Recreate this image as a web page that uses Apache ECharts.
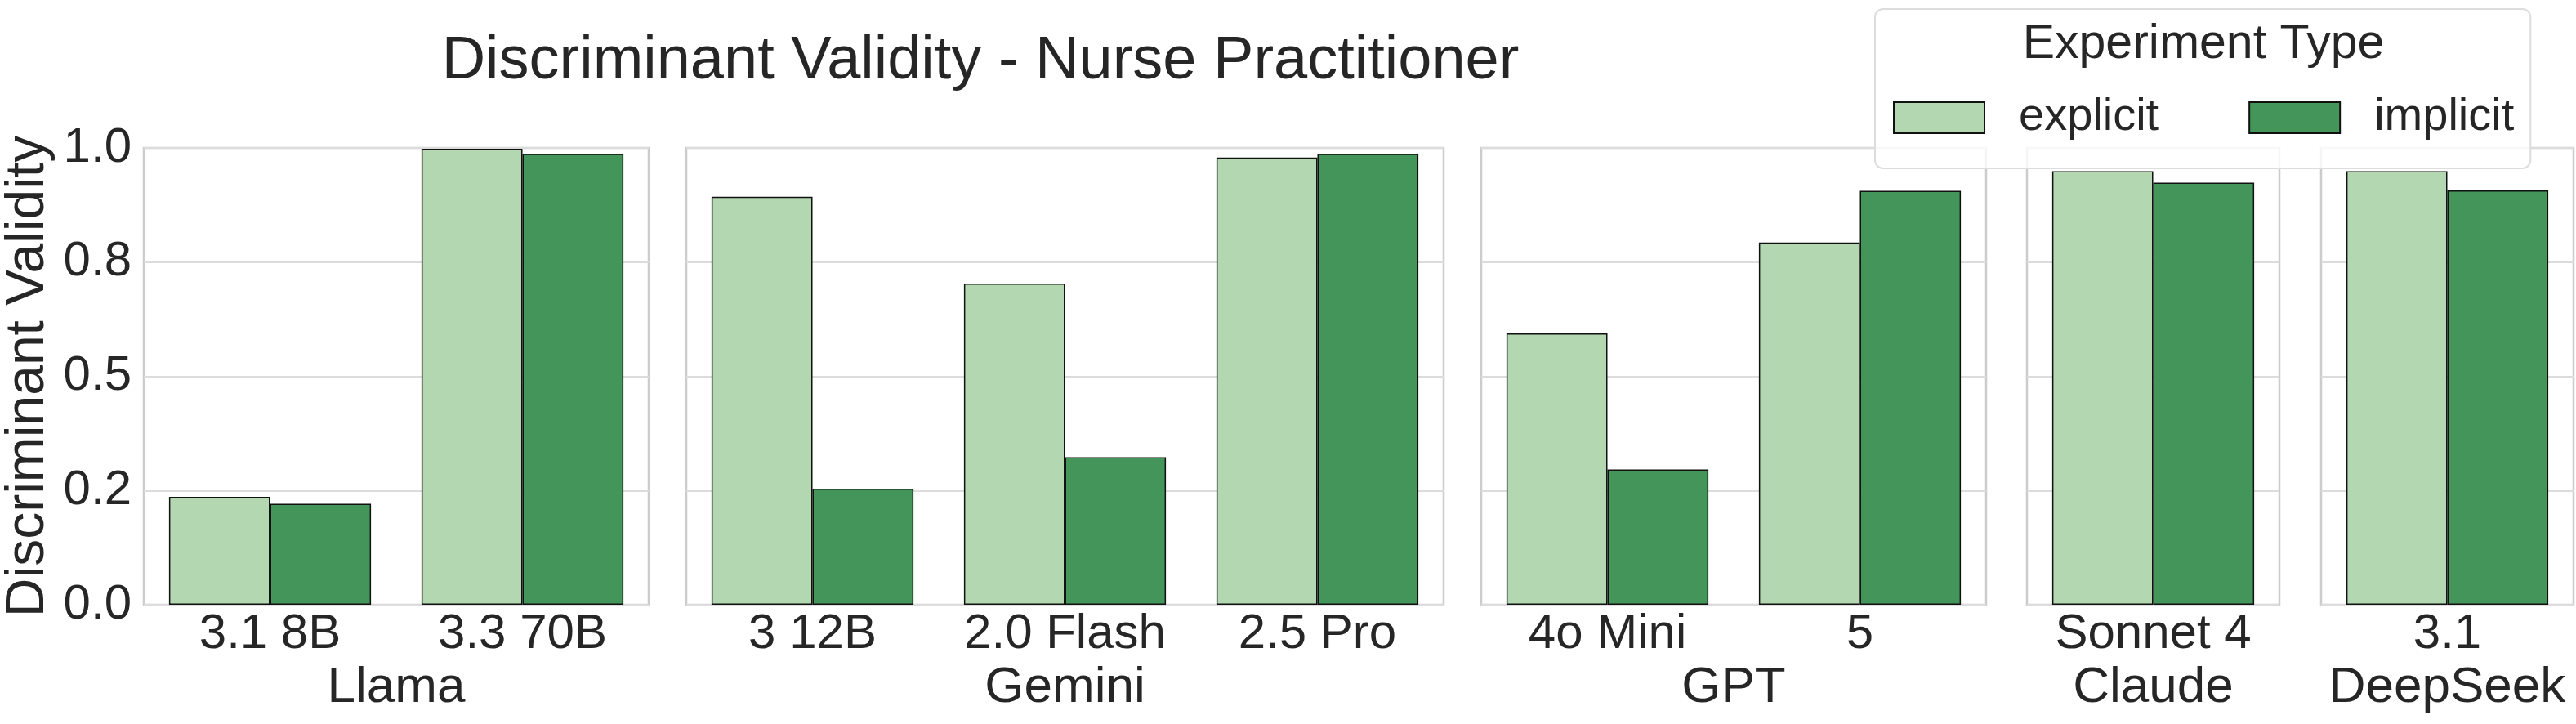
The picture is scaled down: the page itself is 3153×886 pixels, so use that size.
<!DOCTYPE html>
<html>
<head>
<meta charset="utf-8">
<script src="https://cdn.jsdelivr.net/npm/echarts@6/dist/echarts.min.js"></script>
<style>
  html, body { margin: 0; padding: 0; background: #fff; }
  #chart { width: 3153px; height: 886px; }
</style>
</head>
<body>
<div id="chart"></div>
<script>
// data
var groups = ['Llama', 'Gemini', 'GPT', 'Claude', 'DeepSeek'];
var models = [['3.1 8B', '3.3 70B'], ['3 12B', '2.0 Flash', '2.5 Pro'], ['4o Mini', '5'], ['Sonnet 4'], ['3.1']];
var explicitVals = [[0.236, 0.998], [0.893, 0.703, 0.979], [0.594, 0.793], [0.949], [0.949]];
var implicitVals = [[0.221, 0.987], [0.254, 0.323, 0.987], [0.296, 0.906], [0.924], [0.907]];
var yTickLabels = ['0.0', '0.2', '0.5', '0.8', '1.0'];

var panelLeft = [176, 840, 1813, 2481, 2841];
var unit = 309;
var textColor = '#262626';
var font = 'Liberation Sans, Arial, sans-serif';

var grids = [], xAxes = [], yAxes = [], series = [];
groups.forEach(function (g, i) {
  grids.push({
    left: panelLeft[i], top: 181, width: unit * models[i].length, height: 559,
    show: true, borderColor: '#cccccc', borderWidth: 2.5, backgroundColor: '#fff'
  });
  xAxes.push({
    type: 'category', gridIndex: i, data: models[i],
    axisLine: { show: false }, axisTick: { show: false },
    axisLabel: { fontSize: 60, color: textColor, fontFamily: font, margin: 6, interval: 0 },
    name: g, nameLocation: 'middle', nameGap: 71,
    nameTextStyle: { fontSize: 62, color: textColor, fontFamily: font }
  });
  yAxes.push({
    type: 'value', gridIndex: i, min: 0, max: 1, interval: 0.25,
    axisLine: { show: false }, axisTick: { show: false },
    splitLine: { lineStyle: { color: '#dcdcdc', width: 2 } },
    axisLabel: {
      show: i === 0, fontSize: 60, color: textColor, fontFamily: font, margin: 15,
      formatter: function (v) { return yTickLabels[Math.round(v / 0.25)]; }
    },
    name: i === 0 ? 'Discriminant Validity' : '', nameLocation: 'middle', nameGap: 108,
    nameTextStyle: { fontSize: 66, color: textColor, fontFamily: font }
  });
  series.push({
    name: 'explicit', type: 'bar', xAxisIndex: i, yAxisIndex: i, data: explicitVals[i],
    barGap: '0%', barCategoryGap: '20%',
    itemStyle: { color: '#b3d8b1', borderColor: '#111', borderWidth: 1.5 }
  });
  series.push({
    name: 'implicit', type: 'bar', xAxisIndex: i, yAxisIndex: i, data: implicitVals[i],
    barGap: '0%', barCategoryGap: '20%',
    itemStyle: { color: '#44955a', borderColor: '#111', borderWidth: 1.5 }
  });
});

var chart = echarts.init(document.getElementById('chart'));
chart.setOption({
  animation: false,
  backgroundColor: '#fff',
  title: [{
    text: 'Discriminant Validity - Nurse Practitioner',
    left: 1200, top: 39, textAlign: 'center', padding: 0,
    textStyle: { fontSize: 74, fontWeight: 'normal', color: textColor, fontFamily: font }
  }, {
    text: 'Experiment Type',
    left: 2697, top: 25, textAlign: 'center', padding: 0, z: 10,
    textStyle: { fontSize: 59, fontWeight: 'normal', color: textColor, fontFamily: font }
  }],
  legend: {
    data: ['explicit', 'implicit'],
    left: 2295, top: 11, orient: 'horizontal', icon: 'rect',
    itemWidth: 111, itemHeight: 38, itemGap: 110,
    padding: [105, 20, 34, 22],
    backgroundColor: 'rgba(255,255,255,0.8)', borderColor: '#dddddd', borderWidth: 2, borderRadius: 10,
    textStyle: { fontSize: 56, color: textColor, fontFamily: font, padding: [0, 0, 0, 37] }
  },
  grid: grids,
  xAxis: xAxes,
  yAxis: yAxes,
  series: series
});
</script>
</body>
</html>
